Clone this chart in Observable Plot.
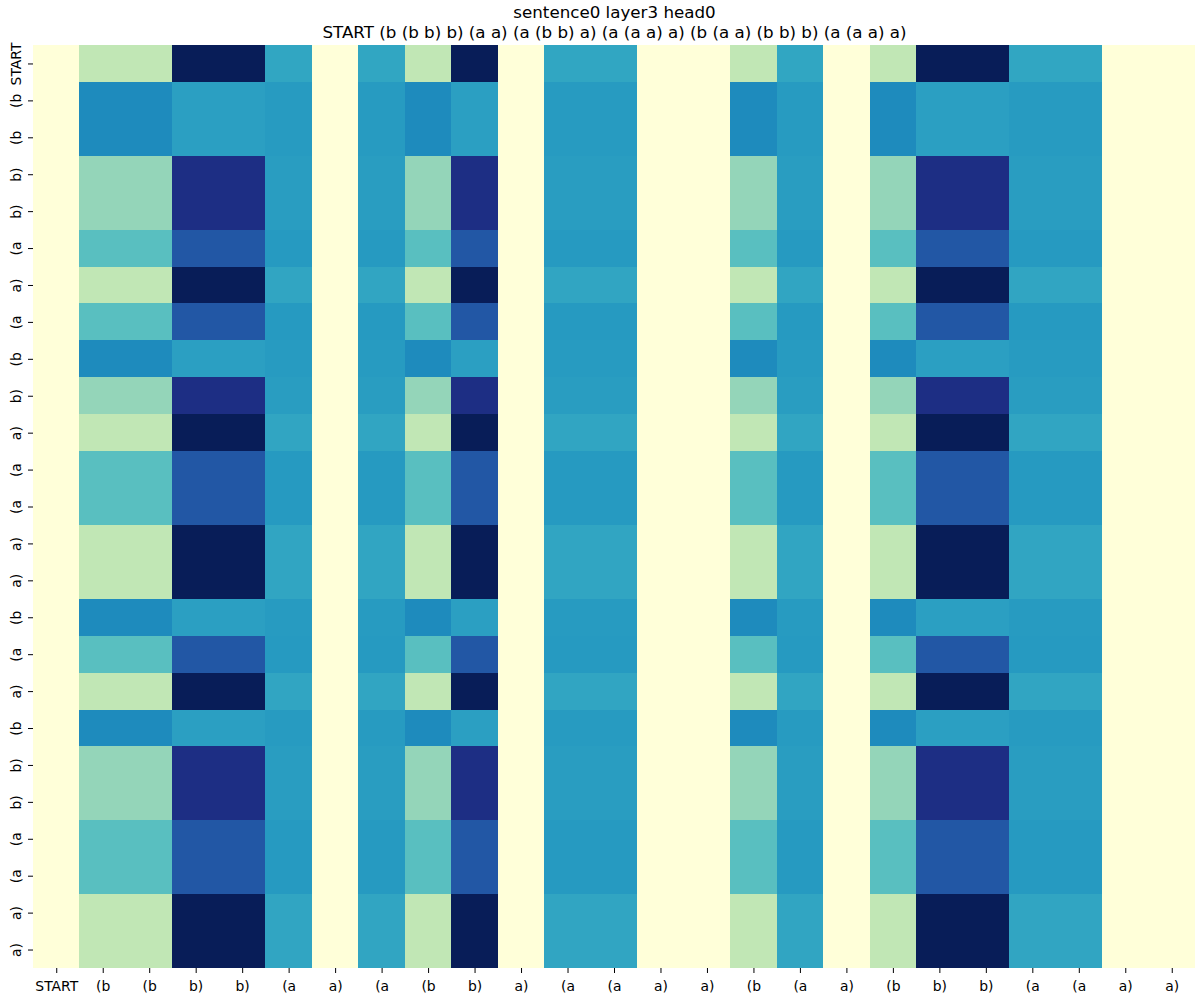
<!DOCTYPE html>
<html><head><meta charset="utf-8">
<script src="https://cdn.jsdelivr.net/npm/d3@7"></script>
<script src="https://cdn.jsdelivr.net/npm/@observablehq/plot@0.6"></script>
<style>body{margin:0;background:#fff}</style>
</head><body><div id="chart"></div>
<script>
const titleLine1 = "sentence0 layer3 head0";
const titleLine2 = "START (b (b b) b) (a a) (a (b b) a) (a (a a) a) (b (a a) (b b) b) (a (a a) a)";
const tokens = ["START","(b","(b","b)","b)","(a","a)","(a","(b","b)","a)","(a","(a","a)","a)","(b","(a","a)","(b","b)","b)","(a","(a","a)","a)"];

// normalized weight per key column, one array per query-token type (rows)
const rowSTART  = [0, .26, .26, 1, 1, .555, 0, .555, .26, 1, 0, .555, .555, 0, 0, .26, .555, 0, .26, 1, 1, .555, .555, 0, 0];
const rowOpenB  = [0, .64, .64, .578, .578, .59, 0, .59, .64, .578, 0, .59, .59, 0, 0, .64, .59, 0, .64, .578, .578, .59, .59, 0, 0];
const rowCloseB = [0, .339, .339, .908, .908, .584, 0, .584, .339, .908, 0, .584, .584, 0, 0, .339, .584, 0, .339, .908, .908, .584, .584, 0, 0];
const rowOpenA  = [0, .451, .451, .77, .77, .595, 0, .595, .451, .77, 0, .595, .595, 0, 0, .451, .595, 0, .451, .77, .77, .595, .595, 0, 0];
const rowCloseA = [0, .26, .26, 1, 1, .557, 0, .557, .26, 1, 0, .557, .557, 0, 0, .26, .557, 0, .26, 1, 1, .557, .557, 0, 0];

const ylgnbu = ["#ffffd9","#edf8b1","#c7e9b4","#7fcdbb","#41b6c4","#1d91c0","#225ea8","#253494","#081d58"];

const rowValuesByToken = new Map([["START", rowSTART], ["(b", rowOpenB], ["b)", rowCloseB], ["(a", rowOpenA], ["a)", rowCloseA]]);
const cells = tokens.flatMap((rt, i) => rowValuesByToken.get(rt).map((v, j) => ({row: i, col: j, value: v})));
const idx = d3.range(tokens.length);

const chart = Plot.plot({
  width: 1195, height: 1000,
  marginLeft: 33, marginRight: 0, marginTop: 45, marginBottom: 32,
  style: {fontFamily: "DejaVu Sans", fontSize: "13.9px", background: "white", color: "black"},
  x: {type: "band", domain: idx, padding: 0, round: false},
  y: {type: "band", domain: idx, padding: 0, round: false},
  color: {type: "linear", domain: [0, 1], interpolate: d3.piecewise(d3.interpolateRgb, ylgnbu)},
  marks: [
    Plot.cell(cells, {x: "col", y: "row", fill: "value", shapeRendering: "crispEdges"}),
    Plot.axisX({tickFormat: i => tokens[i], label: null, tickSize: 5, tickPadding: 8, fontSize: 13.9}),
    Plot.axisY({tickFormat: i => tokens[i], label: null, tickSize: 5, tickPadding: 8, tickRotate: -90, fontSize: 13.9}),
    Plot.text([titleLine1], {text: d => d, frameAnchor: "top", lineAnchor: "bottom", dy: -28, fontSize: 16.7, fill: "black"}),
    Plot.text([titleLine2], {text: d => d, frameAnchor: "top", lineAnchor: "bottom", dy: -8, fontSize: 16.7, fill: "black"})
  ]
});
document.getElementById("chart").appendChild(chart);
</script>
</body></html>
